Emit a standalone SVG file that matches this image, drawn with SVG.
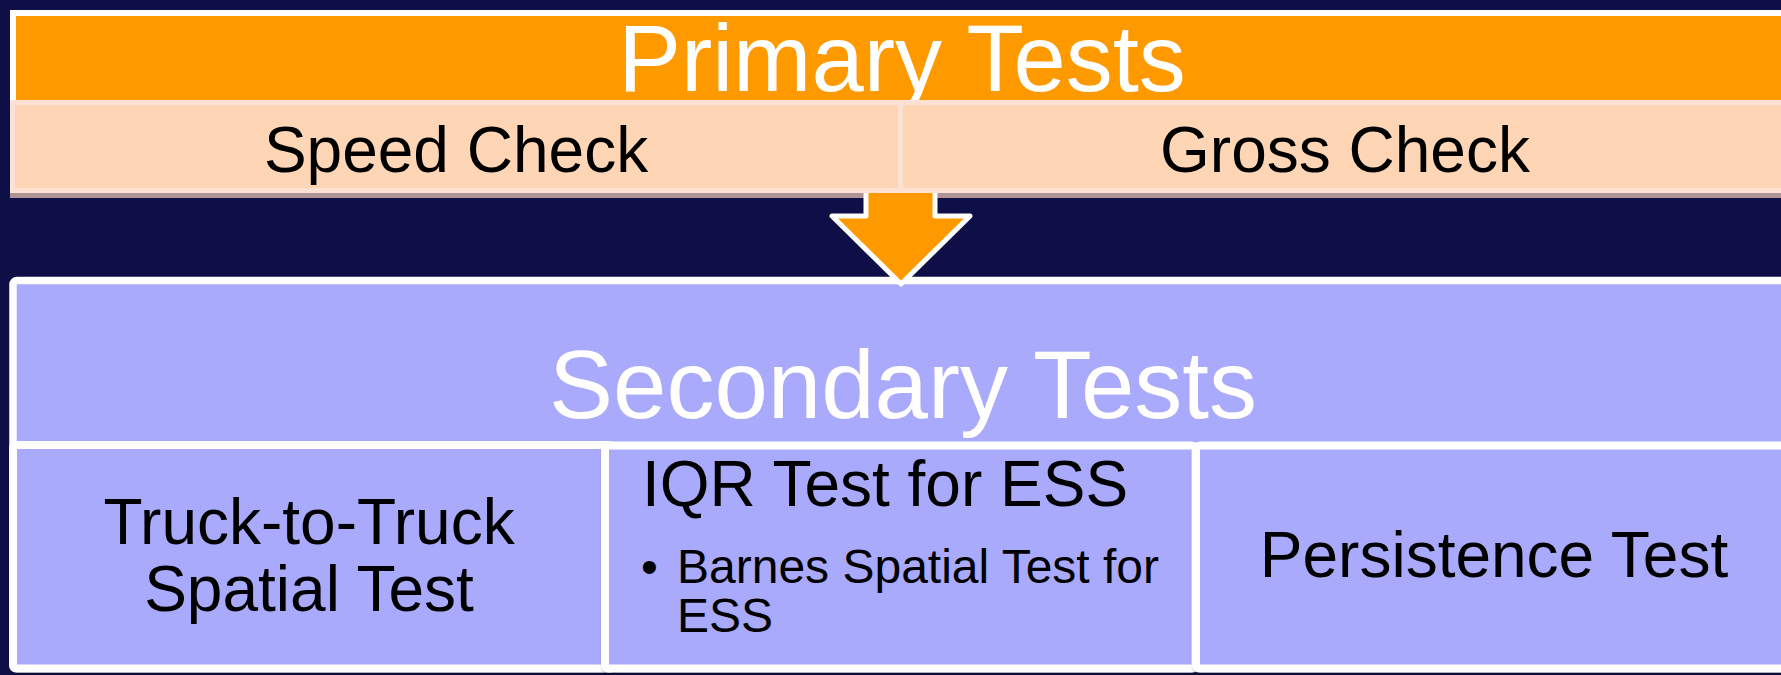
<svg xmlns="http://www.w3.org/2000/svg" width="1781" height="675" viewBox="0 0 1781 675">
  <style>
    .txt { font-family: "Liberation Sans", Arial, sans-serif; }
    .title { fill: #ffffff; text-anchor: middle; }
    .label { fill: #000000; font-size: 64px; }
    .mid { text-anchor: middle; }
    .peach { fill: #fed6b6; stroke: #fde2d4; stroke-width: 5; }
    .lav { fill: #aaaafc; stroke: #ffffff; stroke-width: 8; filter: url(#shadow); }
  </style>
  <defs>
    <filter id="shadow" x="-5%" y="-5%" width="110%" height="115%">
      <feDropShadow dx="1" dy="2" stdDeviation="1.5" flood-color="#000000" flood-opacity="0.35"/>
    </filter>
  </defs>

  <!-- background -->
  <rect x="0" y="0" width="1781" height="675" fill="#0f0f48"/>

  <!-- primary tests container -->
  <g id="primary">
    <rect x="13" y="13" width="1800" height="175" fill="#ff9900" stroke="#ffffff" stroke-width="6"/>
    <text class="txt title" x="902" y="91" font-size="94">Primary Tests</text>
  </g>

  <!-- peach sub-box shadow -->
  <rect x="10" y="192" width="1800" height="6" fill="#d8b4a8" opacity="0.8"/>

  <!-- secondary tests container -->
  <g id="secondary">
    <rect x="13" y="280.5" width="1800" height="388" rx="4" fill="#aaaafc" stroke="#ffffff" stroke-width="7.5"/>
    <text class="txt title" x="903" y="418" font-size="96">Secondary Tests</text>
  </g>

  <!-- connectors -->
  <g id="connectors">
    <polygon points="866,180 935,180 935,216 970,216 901,284 832,216 866,216" fill="#ff9900" stroke="#ffffff" stroke-width="5" stroke-linejoin="round"/>
  </g>

  <!-- primary sub-checks -->
  <g id="speed-check">
    <rect class="peach" x="12.5" y="102.5" width="888" height="88"/>
    <text class="txt label mid" x="456" y="172">Speed Check</text>
  </g>
  <g id="gross-check">
    <rect class="peach" x="900.5" y="102.5" width="910" height="88"/>
    <text class="txt label mid" x="1345" y="172">Gross Check</text>
  </g>

  <!-- secondary sub-tests -->
  <g id="truck-to-truck">
    <rect class="lav" x="13" y="445" width="600" height="223.5" rx="3"/>
    <text class="txt label mid" x="309" y="544">Truck-to-Truck</text>
    <text class="txt label mid" x="309" y="611">Spatial Test</text>
  </g>
  <g id="iqr-test">
    <rect class="lav" x="605" y="445.5" width="590.5" height="223" rx="4"/>
    <text class="txt label" x="642" y="506">IQR Test for ESS</text>
    <text class="txt" x="641" y="583" font-size="48">•</text>
    <text class="txt" x="677" y="583" font-size="48">Barnes Spatial Test for</text>
    <text class="txt" x="677" y="632" font-size="48">ESS</text>
  </g>
  <g id="persistence-test">
    <rect class="lav" x="1196" y="445.5" width="620" height="223" rx="4"/>
    <text class="txt label mid" x="1494" y="577">Persistence Test</text>
  </g>
</svg>
